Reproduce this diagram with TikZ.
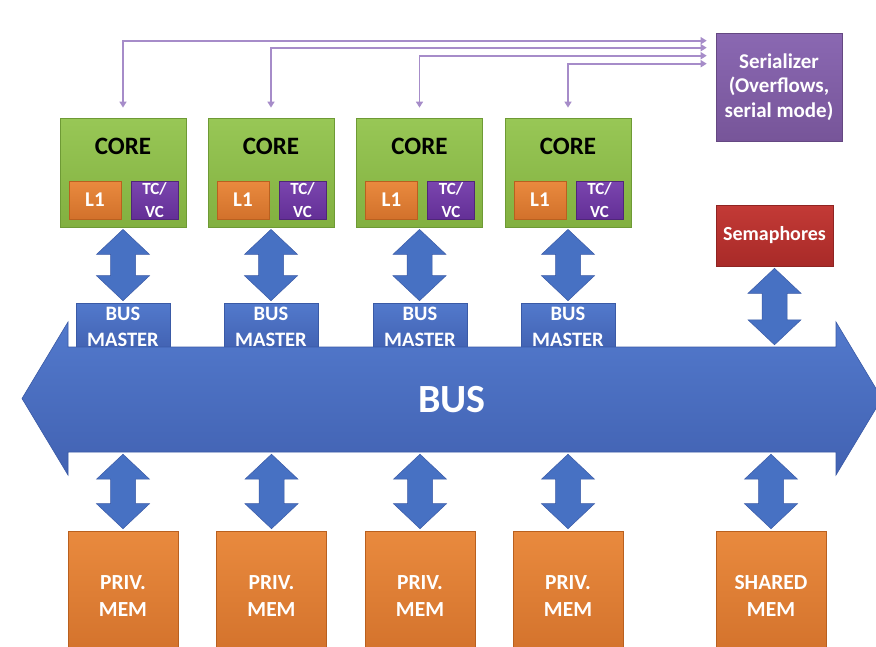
\documentclass[tikz,border=0pt]{standalone}
\usepackage{fontspec}
\setmainfont{Carlito}
\usetikzlibrary{calc,arrows.meta}
\definecolor{coreTop}{HTML}{98C756}
\definecolor{coreBot}{HTML}{82B040}
\definecolor{coreEdge}{HTML}{6E9A35}
\definecolor{orTop}{HTML}{E98A3E}
\definecolor{orBot}{HTML}{D2712B}
\definecolor{orEdge}{HTML}{B9601F}
\definecolor{tcTop}{HTML}{7A45AE}
\definecolor{tcBot}{HTML}{632F96}
\definecolor{serTop}{HTML}{8A68B2}
\definecolor{serBot}{HTML}{775599}
\definecolor{semTop}{HTML}{C33A36}
\definecolor{semBot}{HTML}{A82A28}
\definecolor{busTop}{HTML}{5279CC}
\definecolor{busBot}{HTML}{4262B2}
\definecolor{busEdge}{HTML}{3A5AA6}
\definecolor{fatCol}{HTML}{4771C3}
\definecolor{lineViolet}{HTML}{A68CC9}
\tikzset{
  box/.style={rectangle, inner sep=0pt, align=center, font=\bfseries},
  corebox/.style={box, minimum width=126pt, minimum height=109pt, top color=coreTop, bottom color=coreBot, draw=coreEdge, line width=0.8pt},
  coretext/.style={box, font=\fontsize{25}{28}\selectfont\bfseries, text=black},
  lonebox/.style={box, minimum width=52pt, minimum height=38pt, top color=orTop, bottom color=orBot, draw=orEdge, line width=0.6pt, text=white, font=\fontsize{21}{24}\selectfont\bfseries},
  tcbox/.style={box, minimum width=47pt, minimum height=38pt, top color=tcTop, bottom color=tcBot, draw=tcBot!80!black, line width=0.6pt, text=white, font=\fontsize{17}{23}\selectfont\bfseries},
  serbox/.style={box, minimum width=126pt, minimum height=108pt, top color=serTop, bottom color=serBot, draw=serBot!85!black, line width=0.6pt, text=white, font=\fontsize{21}{24.5}\selectfont\bfseries},
  sembox/.style={box, minimum width=117pt, minimum height=61pt, top color=semTop, bottom color=semBot, draw=semBot!85!black, line width=0.6pt, text=white, font=\fontsize{20}{23}\selectfont\bfseries},
  bmbox/.style={box, minimum width=94pt, minimum height=47pt, top color=busTop, bottom color=busBot, draw=busEdge, line width=0.6pt, text=white, font=\fontsize{20.5}{26}\selectfont\bfseries},
  membox/.style={box, minimum width=110pt, minimum height=130pt, top color=orTop, bottom color=orBot, draw=orEdge, line width=0.6pt, text=white, font=\fontsize{21.5}{27}\selectfont\bfseries},
  bustext/.style={box, minimum width=768pt, minimum height=105pt, text=white, font=\fontsize{40}{44}\selectfont\bfseries},
  busshape/.style={top color=busTop, bottom color=busBot, draw=busEdge, line width=0.6pt},
  fatstyle/.style={fill=fatCol, draw=busEdge, line width=0.5pt},
  sline/.style={draw=lineViolet, line width=1.6pt, arrows={Triangle[width=7pt,length=6pt]-Triangle[width=7pt,length=6pt]}}
}
\newcommand\fatarrow[2]{%
  \path[fatstyle] let \p1=(#1), \p2=(#2) in
  (\x1,\y1-2pt) -- (\x1+26.5pt,\y1-27pt) -- (\x1+12.5pt,\y1-27pt) -- (\x1+12.5pt,\y2+27pt) -- (\x1+26.5pt,\y2+27pt) -- (\x1,\y2+2pt) -- (\x1-26.5pt,\y2+27pt) -- (\x1-12.5pt,\y2+27pt) -- (\x1-12.5pt,\y1-27pt) -- (\x1-26.5pt,\y1-27pt) -- cycle;}
\begin{document}
\begin{tikzpicture}[x=1pt,y=-1pt]
\useasboundingbox (0,0) rectangle (876,646);
\clip (0,0) rectangle (876,646);
\fill[white] (0,0) rectangle (876,646);
% serializer
\node[serbox] (ser) at (779,87) {Serializer\\(Overflows,\\serial mode)};
% cores
\foreach \i/\x in {1/123,2/271,3/419.5,4/568}{
  \node[corebox] (c\i) at (\x,172.5) {};
  \node[coretext] (ct\i) at ([yshift=-29pt]c\i.north) {CORE};
  \node[lonebox] (l\i) at ($(c\i.center)+(-28,27.5)$) {L1};
  \node[tcbox] (tc\i) at ($(c\i.center)+(31.5,28)$) {TC/\\VC};
}
% serializer lines
\draw[sline] ([yshift=10pt]c1.north) |- ($(ser.north west)+(-9,8)$);
\draw[sline] ([yshift=10pt]c2.north) |- ($(ser.north west)+(-9,15)$);
\draw[sline] ([yshift=10pt]c3.north) |- ($(ser.north west)+(-9,23)$);
\draw[sline] ([yshift=10pt]c4.north) |- ($(ser.north west)+(-9,31)$);
% semaphores
\node[sembox] (sem) at (774.5,235.5) {Semaphores};
% bus masters
\foreach \i/\x in {1/123,2/271,3/420,4/568}{
  \node[bmbox] (bm\i) at (\x,326.5) {BUS\\MASTER};
}
\foreach \i in {1,2,3,4}{\fatarrow{c\i.south}{bm\i.north}}
% bus
\path[busshape] (22,398.5) -- (68,322) -- (68,347) -- (836,347) -- (836,322) -- (882,398.5) -- (836,475) -- (836,452) -- (68,452) -- (68,475) -- cycle;
\node[bustext] (bus) at (452,399.5) {BUS};
\fatarrow{sem.south}{bus.north -| sem.south}
% memories
\foreach \i/\x in {1/123,2/271.5,3/420,4/568}{
  \node[membox] (m\i) at (\x,596) {PRIV.\\MEM};
}
\node[membox] (m5) at (771,596) {SHARED\\MEM};
\foreach \i in {1,2,3,4,5}{\fatarrow{bus.south -| m\i.north}{m\i.north}}
\end{tikzpicture}
\end{document}
